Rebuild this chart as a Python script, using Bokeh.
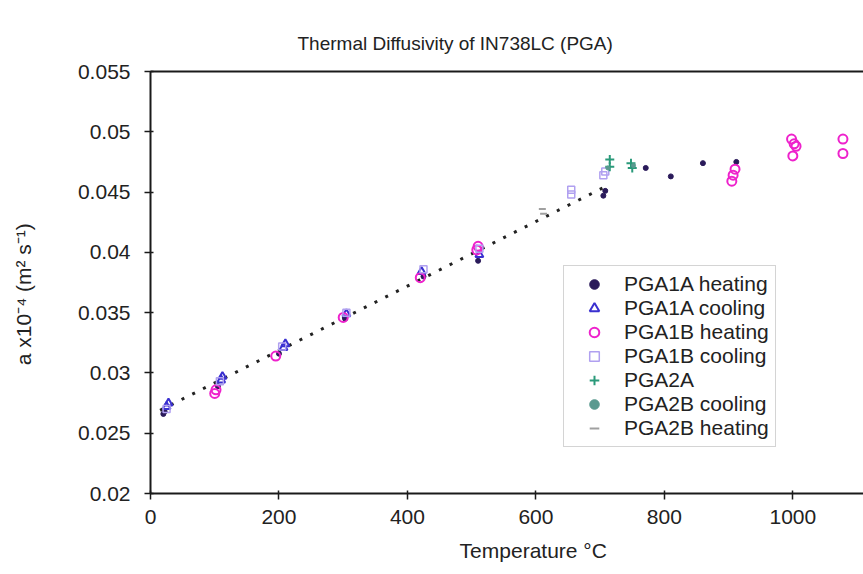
from bokeh.plotting import figure
from bokeh.models import (Range1d, FixedTicker, CustomJSTickFormatter, LinearAxis,
                          Legend, LegendItem, Title)
from bokeh.embed import file_html
from bokeh.resources import INLINE

FONT = "Liberation Sans"

# ---- data ----
pga1a_heat_T = [20, 22, 105, 200, 303, 425, 510, 705, 708, 771, 810, 860, 912]
pga1a_heat_a = [0.0266, 0.0268, 0.0289, 0.0316, 0.0345, 0.0380, 0.0393, 0.0447, 0.0451,
                0.0470, 0.0463, 0.0474, 0.0475]

pga1a_cool_T = [25, 28, 110, 112, 207, 210, 305, 422, 512]
pga1a_cool_a = [0.0272, 0.0275, 0.0294, 0.0297, 0.0321, 0.0324, 0.0349, 0.0384, 0.0398]

pga1b_heat_T = [100, 102, 195, 300, 420, 508, 510, 905, 907, 910, 998, 1002, 1005, 1000, 1078, 1078]
pga1b_heat_a = [0.0283, 0.0286, 0.0314, 0.0346, 0.0379, 0.0402, 0.0405, 0.0459, 0.0464, 0.0469,
                0.0494, 0.0490, 0.0488, 0.0480, 0.0494, 0.0482]

pga1b_cool_T = [25, 108, 205, 305, 425, 512, 655, 655, 705, 708]
pga1b_cool_a = [0.0270, 0.0293, 0.0322, 0.0350, 0.0386, 0.0403, 0.0452, 0.0448, 0.0464, 0.0467]

pga2a_T = [715, 715, 748, 750]
pga2a_a = [0.0477, 0.0471, 0.0474, 0.0470]

pga2b_cool_T = [712, 752]
pga2b_cool_a = [0.0470, 0.0472]

pga2b_heat_T = [610, 612]
pga2b_heat_a = [0.0436, 0.0432]

trend_T = [15, 710]
trend_a = [0.0269, 0.0455]

x_ticks = [0, 200, 400, 600, 800, 1000]
y_ticks = [0.02, 0.025, 0.03, 0.035, 0.04, 0.045, 0.05, 0.055]

p = figure(width=863, height=574, output_backend="svg", toolbar_location=None,
           x_range=Range1d(0, 1110), y_range=Range1d(0.02, 0.055),
           min_border_left=150, min_border_right=0, min_border_top=71, min_border_bottom=81)
p.title = Title(text="Thermal Diffusivity of IN738LC (PGA)", align="left", offset=147,
                text_font=FONT, text_font_size="19px", text_font_style="normal",
                text_color="#222222", standoff=36)
p.outline_line_color = None
p.grid.visible = False
p.background_fill_color = "white"
p.border_fill_color = "white"

for ax in (p.xaxis[0], p.yaxis[0]):
    ax.axis_line_color = "#1a1a1a"
    ax.axis_line_width = 2
    ax.major_tick_line_color = "#1a1a1a"
    ax.major_tick_line_width = 1.5
    ax.major_tick_in = 3
    ax.major_tick_out = 6
    ax.minor_tick_line_color = None
    ax.major_label_text_font = FONT
    ax.major_label_text_font_size = "21px"
    ax.major_label_text_color = "#222222"
    ax.axis_label_text_font = FONT
    ax.axis_label_text_font_size = "21px"
    ax.axis_label_text_font_style = "normal"
    ax.axis_label_text_color = "#222222"

p.xaxis.ticker = FixedTicker(ticks=x_ticks)
# the chart's axis runs on to 1200 beyond the cropped right edge, so its title sits right of the visible centre
p.xaxis.axis_label = "\u00a0" * 9 + "Temperature °C"
p.xaxis.major_label_standoff = 10
p.xaxis.axis_label_standoff = 12

p.yaxis.ticker = FixedTicker(ticks=y_ticks)
p.yaxis.formatter = CustomJSTickFormatter(code="return String(Math.round(tick*1000)/1000);")
p.yaxis.axis_label = "a x10⁻⁴    (m²  s⁻¹)"
p.yaxis.major_label_standoff = 14
p.yaxis.axis_label_standoff = 40

top_axis = LinearAxis(ticker=FixedTicker(ticks=[]), major_label_text_font_size="0px",
                      axis_line_color="#1a1a1a", axis_line_width=2,
                      major_tick_line_color=None, minor_tick_line_color=None)
p.add_layout(top_axis, "above")

p.line(trend_T, trend_a, line_color="#222222", line_width=3, line_dash="3 9")

r1 = p.scatter(pga1a_heat_T, pga1a_heat_a, marker="circle", size=5,
               fill_color="#2a1a5a", line_color="#2a1a5a")
r2 = p.scatter(pga1a_cool_T, pga1a_cool_a, marker="triangle", size=8,
               fill_color=None, line_color="#3a30d0", line_width=2)
r3 = p.scatter(pga1b_heat_T, pga1b_heat_a, marker="circle", size=9,
               fill_color=None, line_color="#ee22cc", line_width=2)
r4 = p.scatter(pga1b_cool_T, pga1b_cool_a, marker="square", size=7,
               fill_color=None, line_color="#b0a0f0", line_width=1.5)
r5 = p.scatter(pga2a_T, pga2a_a, marker="cross", size=9,
               line_color="#2a9a7a", line_width=2)
r6 = p.scatter(pga2b_cool_T, pga2b_cool_a, marker="circle", size=4,
               fill_color="#5a9a90", line_color="#5a9a90")
r7 = p.scatter(pga2b_heat_T, pga2b_heat_a, marker="dash", size=7,
               line_color="#a0a0a0", line_width=2)

legend = Legend(items=[
    LegendItem(label="PGA1A heating", renderers=[r1]),
    LegendItem(label="PGA1A cooling", renderers=[r2]),
    LegendItem(label="PGA1B heating", renderers=[r3]),
    LegendItem(label="PGA1B cooling", renderers=[r4]),
    LegendItem(label="PGA2A", renderers=[r5]),
    LegendItem(label="PGA2B cooling", renderers=[r6]),
    LegendItem(label="PGA2B heating", renderers=[r7]),
], location=(413, 46))
legend.label_text_font = FONT
legend.label_text_font_size = "21px"
legend.label_text_color = "#222222"
legend.label_height = 24
legend.glyph_height = 24
legend.glyph_width = 48
legend.label_standoff = 6
legend.spacing = 0
legend.padding = 6
legend.margin = 0
legend.border_line_color = "#aaaaaa"
legend.border_line_width = 1.5
legend.background_fill_alpha = 1
p.add_layout(legend, "center")

open("out.html", "w").write(file_html(p, INLINE))
